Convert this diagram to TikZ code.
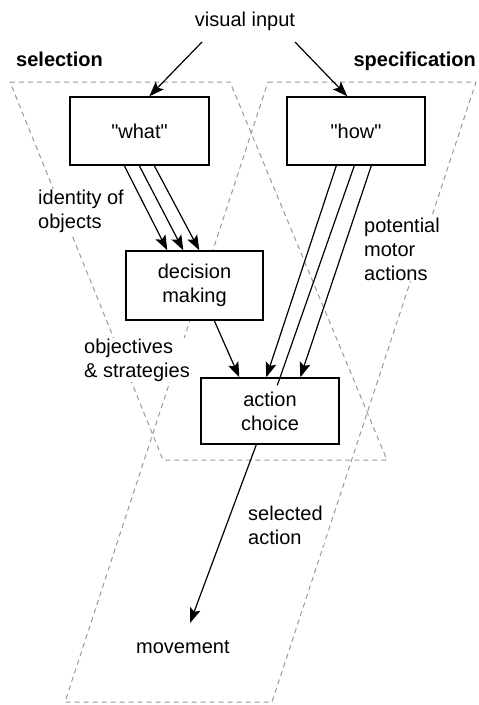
\documentclass[tikz,border=0pt]{standalone}
\usepackage{fontspec}
\setmainfont{Liberation Sans}
\usetikzlibrary{arrows.meta,calc}
\begin{document}
\begin{tikzpicture}[x=1pt,y=-1pt,
  every node/.style={font=\fontsize{20}{24}\selectfont},
  box/.style={draw, fill=white, line width=1.4pt, align=center, inner sep=0pt},
  lbl/.style={fill=white, inner sep=1pt, align=left},
  zone/.style={draw=gray!80, line width=1pt, dash pattern=on 5pt off 4pt},
  arr/.style={line width=1.2pt, -{Stealth[length=15pt,width=11pt,inset=3pt]}},
  plain/.style={line width=1.2pt}
]
\useasboundingbox (0,0) rectangle (479,705);
% dashed zones
\draw[zone] (10,82) -- (230,82) -- (387,460) -- (163,460) -- cycle;
\draw[zone] (268,82) -- (476,82) -- (272,702) -- (65,702) -- cycle;
% labels
\node[lbl, anchor=base] (vi) at (245,26) {visual input};
\node[lbl, anchor=base west, font=\fontsize{20}{24}\selectfont\bfseries] (sel) at (15,66) {selection};
\node[lbl, anchor=base east, font=\fontsize{20}{24}\selectfont\bfseries] (spec) at (477,66) {specification};
\node[lbl, anchor=base west] (ido) at (37,228) {identity of\\objects};
\node[lbl, anchor=base west] (pma) at (363,280) {potential\\motor\\actions};
\node[lbl, anchor=base west] (obj) at (83,377) {objectives\\\& strategies};
\node[lbl, anchor=base west] (sa) at (247,544) {selected\\action};
\node[lbl, anchor=base west] (mv) at (135,653) {movement};
% boxes
\node[box, minimum width=139pt, minimum height=68pt] (what) at (139.5,131) {\textquotedbl what\textquotedbl};
\node[box, minimum width=138pt, minimum height=68pt] (how) at (356,131) {\textquotedbl how\textquotedbl};
\node[box, minimum width=137pt, minimum height=69pt] (dec) at (194.5,285.5) {decision\\making};
\node[box, minimum width=138pt, minimum height=66pt] (act) at (270,411) {action\\choice};
% connectors
\coordinate (vi1) at (202,42);
\coordinate (vi2) at (295,42);
\coordinate (mvtip) at (190,623);
\draw[arr] (vi1) -- ($(what.north west)+(80,0)$);
\draw[arr] (vi2) -- ($(how.north west)+(61,0)$);
\foreach \s/\e in {55/42,70/58,85/74}
  \draw[arr] ($(what.south west)+(\s,0)$) -- ($(dec.north west)+(\e,0)$);
\draw[arr] ($(how.south west)+(50,0)$) -- ($(act.north west)+(66,0)$);
\draw[plain] ($(how.south west)+(68,0)$) -- ($(act.north west)+(77,8)$);
\draw[arr] ($(how.south west)+(85,0)$) -- ($(act.north west)+(100,0)$);
\draw[arr] ($(dec.south west)+(89,0)$) -- ($(act.north west)+(39,0)$);
\draw[arr] ($(act.south west)+(56,0)$) -- (mvtip);
\end{tikzpicture}
\end{document}
